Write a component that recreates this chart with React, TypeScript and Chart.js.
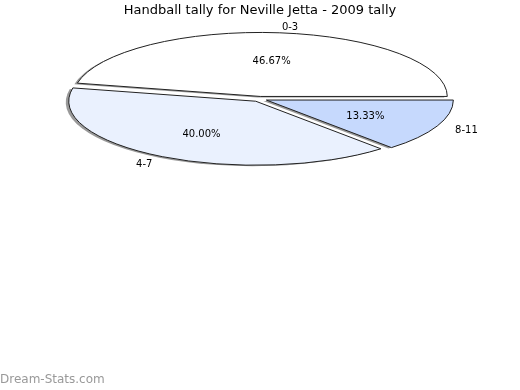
import React, { useEffect, useRef } from "react";
import { Chart, registerables } from "chart.js";

Chart.register(...registerables);

const TITLE = "Handball tally for Neville Jetta - 2009 tally";
const WATERMARK = "Dream-Stats.com";
const categories = ["0-3", "4-7", "8-11"];
const counts = [7, 6, 2];
const colors = ["#ffffff", "#eaf1fe", "#c6d9fd"];

const CX = 259.5;
const CY = 99;
const RX = 187;
const RY = 64;
const OFF = 7.5;
const LABEL_DY = 1.5;
const FONT = "'DejaVu Sans', sans-serif";

export default function App() {
  const ref = useRef<HTMLCanvasElement>(null);

  useEffect(() => {
    const canvas = ref.current!;
    const labels = [...categories].reverse();
    const data = [...counts].reverse();
    const bg = [...colors].reverse();
    const total = counts.reduce((a, b) => a + b, 0);

    const ellipsePlugin = {
      id: "ellipsePie",
      beforeDatasetsDraw(chart: any) {
        const ctx = chart.ctx as CanvasRenderingContext2D;
        const meta = chart.getDatasetMeta(0);
        const base = ctx.getTransform();
        const proto = CanvasRenderingContext2D.prototype;
        meta.data.forEach((el: any) => {
          const R = el.outerRadius;
          const kx = RX / R;
          const ky = RY / R;
          const mid = (el.startAngle + el.endAngle) / 2;
          const o = OFF / kx;
          const setT = () => {
            ctx.translate(CX, CY);
            ctx.scale(kx, ky);
            ctx.translate(-el.x, -el.y);
            ctx.translate(Math.cos(mid) * o, Math.sin(mid) * o);
          };
          // fill with shadow
          ctx.save();
          setT();
          ctx.shadowColor = "rgba(0,0,0,0.4)";
          ctx.shadowOffsetX = -3;
          ctx.shadowOffsetY = 1;
          ctx.shadowBlur = 0;
          (ctx as any).stroke = () => {};
          el.draw(ctx);
          delete (ctx as any).stroke;
          ctx.restore();
          // outline with uniform width
          ctx.save();
          setT();
          (ctx as any).fill = () => {};
          (ctx as any).stroke = function () {
            ctx.save();
            ctx.setTransform(base);
            proto.stroke.call(ctx);
            ctx.restore();
          };
          el.draw(ctx);
          delete (ctx as any).fill;
          delete (ctx as any).stroke;
          ctx.restore();
        });
        return false;
      },
      afterDraw(chart: any) {
        const ctx = chart.ctx as CanvasRenderingContext2D;
        const meta = chart.getDatasetMeta(0);
        ctx.save();
        ctx.fillStyle = "#000";
        ctx.font = `10px ${FONT}`;
        ctx.textBaseline = "middle";
        meta.data.forEach((el: any, i: number) => {
          const mid = (el.startAngle + el.endAngle) / 2;
          const c = Math.cos(mid);
          const s = Math.sin(mid);
          const pct = ((data[i] / total) * 100).toFixed(2) + "%";
          ctx.textAlign = "center";
          ctx.fillText(pct, CX + RX * 0.62 * c, CY + RY * 0.62 * s + LABEL_DY);
          ctx.textAlign = c >= 0 ? "left" : "right";
          ctx.fillText(labels[i], CX + RX * 1.145 * c, CY + RY * 1.145 * s + LABEL_DY);
        });
        ctx.font = `12px ${FONT}`;
        ctx.fillStyle = "#999999";
        ctx.textAlign = "left";
        ctx.fillText(WATERMARK, 0, 380);
        ctx.restore();
      },
    };

    const chart = new Chart(canvas, {
      type: "pie",
      data: {
        labels,
        datasets: [
          {
            data,
            backgroundColor: bg,
            borderColor: "#222222",
            borderWidth: 1,
            offset: 0,
          },
        ],
      },
      options: {
        responsive: false,
        animation: false,
        events: [],
        rotation: 90,
        layout: { padding: 0 },
        plugins: {
          legend: { display: false },
          tooltip: { enabled: false },
          title: {
            display: true,
            text: TITLE,
            color: "#000",
            font: { family: FONT, size: 13, weight: "normal" },
            padding: { top: 3, bottom: 4 },
          },
        },
      },
      plugins: [ellipsePlugin],
    });
    return () => chart.destroy();
  }, []);

  return (
    <div style={{ position: "absolute", left: 0, top: 0, width: 520, height: 390, background: "#fff" }}>
      <canvas ref={ref} width={520} height={390} style={{ display: "block" }} />
    </div>
  );
}
